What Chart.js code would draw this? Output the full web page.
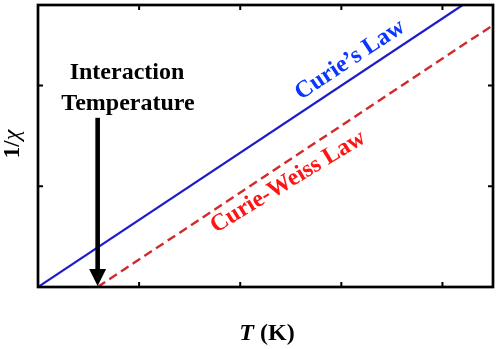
<!DOCTYPE html>
<html>
<head>
<meta charset="utf-8">
<script src="https://cdn.jsdelivr.net/npm/chart.js@4/dist/chart.umd.min.js"></script>
<style>
  html, body { margin: 0; padding: 0; background: #fff; }
  #wrap { width: 498px; height: 349px; }
</style>
</head>
<body>
<div id="wrap"><canvas id="chart" width="498" height="349"></canvas></div>
<script>
// axis ranges and (unlabelled) tick positions
const xRange = [0, 4.5];
const yRange = [0, 2.8];
const xTicks = [1, 2, 3, 4];
const yTicks = [1, 2];

// Curie's law: 1/chi through the origin
const curieT = [0, 4.2];
const curieY = [0, 2.8];

// Curie-Weiss law: shifted by the interaction temperature
const weissT = [0.59, 4.5];
const weissY = [0, 2.6];

const interactionT = 0.59;
const arrowTop = 1.68;

const serif = '"Liberation Serif", "DejaVu Serif", serif';

function toPoints(xs, ys) {
  return xs.map((x, i) => ({ x: x, y: ys[i] }));
}

// frame, inward ticks, arrow and all the text
const decorations = {
  id: 'decorations',
  afterDraw(chart) {
    const ctx = chart.ctx;
    const area = chart.chartArea;
    const xs = chart.scales.x;
    const ys = chart.scales.y;
    ctx.save();

    // frame
    ctx.strokeStyle = '#000';
    ctx.lineWidth = 2.7;
    ctx.strokeRect(area.left, area.top, area.right - area.left, area.bottom - area.top);

    // inward ticks on all four sides
    ctx.lineWidth = 2;
    ctx.beginPath();
    xTicks.forEach(t => {
      const px = xs.getPixelForValue(t);
      ctx.moveTo(px, area.bottom); ctx.lineTo(px, area.bottom - 5);
      ctx.moveTo(px, area.top); ctx.lineTo(px, area.top + 5);
    });
    yTicks.forEach(t => {
      const py = ys.getPixelForValue(t);
      ctx.moveTo(area.left, py); ctx.lineTo(area.left + 5, py);
      ctx.moveTo(area.right, py); ctx.lineTo(area.right - 5, py);
    });
    ctx.stroke();

    // arrow down to the interaction temperature
    const ax = xs.getPixelForValue(interactionT);
    const ay0 = ys.getPixelForValue(arrowTop);
    const ay1 = ys.getPixelForValue(0) - 1;
    ctx.fillStyle = '#000';
    ctx.fillRect(ax - 2.3, ay0, 4.6, ay1 - ay0 - 16);
    ctx.beginPath();
    ctx.moveTo(ax - 8.5, ay1 - 17);
    ctx.lineTo(ax + 8.5, ay1 - 17);
    ctx.lineTo(ax, ay1);
    ctx.closePath();
    ctx.fill();

    // "Interaction Temperature"
    ctx.font = 'bold 24px ' + serif;
    ctx.textAlign = 'center';
    ctx.textBaseline = 'alphabetic';
    ctx.fillText('Interaction', 127, 79);
    ctx.fillText('Temperature', 128, 110);

    // rotated law labels, following the line slope
    const angle = Math.atan2(
      ys.getPixelForValue(curieY[1]) - ys.getPixelForValue(curieY[0]),
      xs.getPixelForValue(curieT[1]) - xs.getPixelForValue(curieT[0])
    );
    ctx.textBaseline = 'middle';
    ctx.save();
    ctx.translate(350, 60);
    ctx.rotate(angle);
    ctx.fillStyle = '#0a36ff';
    ctx.fillText('Curie\u2019s Law', 0, 0);
    ctx.restore();

    ctx.save();
    ctx.translate(288, 182);
    ctx.rotate(angle + 0.04);
    ctx.fillStyle = '#ff1414';
    ctx.fillText('Curie-Weiss Law', 0, 0);
    ctx.restore();

    // y axis title: bold 1/ and italic chi
    ctx.save();
    ctx.translate(13, 144);
    ctx.rotate(-Math.PI / 2);
    ctx.fillStyle = '#000';
    ctx.textAlign = 'left';
    const fontOne = 'bold 23px ' + serif;
    const fontChi = 'italic 24px ' + serif;
    ctx.font = fontOne;
    const wOne = ctx.measureText('1/').width;
    ctx.font = fontChi;
    const wChi = ctx.measureText('\u03C7').width;
    ctx.font = fontOne;
    ctx.fillText('1/', -(wOne + wChi) / 2, 0);
    ctx.font = fontChi;
    ctx.fillText('\u03C7', -(wOne + wChi) / 2 + wOne, 0);
    ctx.restore();

    // x axis title: italic T, then (K)
    ctx.fillStyle = '#000';
    ctx.textBaseline = 'alphabetic';
    ctx.textAlign = 'left';
    const fontT = 'bold italic 24px ' + serif;
    const fontK = 'bold 24px ' + serif;
    ctx.font = fontT;
    const wT = ctx.measureText('T').width;
    ctx.font = fontK;
    const wK = ctx.measureText(' (K)').width;
    const startX = 267 - (wT + wK) / 2;
    ctx.font = fontT;
    ctx.fillText('T', startX, 340);
    ctx.font = fontK;
    ctx.fillText(' (K)', startX + wT, 340);

    ctx.restore();
  }
};

new Chart(document.getElementById('chart'), {
  type: 'scatter',
  data: {
    datasets: [{
      label: "Curie's Law",
      data: toPoints(curieT, curieY),
      showLine: true,
      borderColor: '#1c1cc8',
      borderWidth: 2.2,
      pointRadius: 0,
      fill: false
    }, {
      label: 'Curie-Weiss Law',
      data: toPoints(weissT, weissY),
      showLine: true,
      borderColor: '#d22a2a',
      borderWidth: 2.4,
      borderDash: [9, 5],
      pointRadius: 0,
      fill: false
    }]
  },
  options: {
    responsive: false,
    animation: false,
    layout: { padding: { left: 38, top: 5, right: 5, bottom: 62 } },
    plugins: {
      legend: { display: false },
      tooltip: { enabled: false }
    },
    scales: {
      x: { type: 'linear', display: false, min: xRange[0], max: xRange[1] },
      y: { type: 'linear', display: false, min: yRange[0], max: yRange[1] }
    }
  },
  plugins: [decorations]
});
</script>
</body>
</html>
